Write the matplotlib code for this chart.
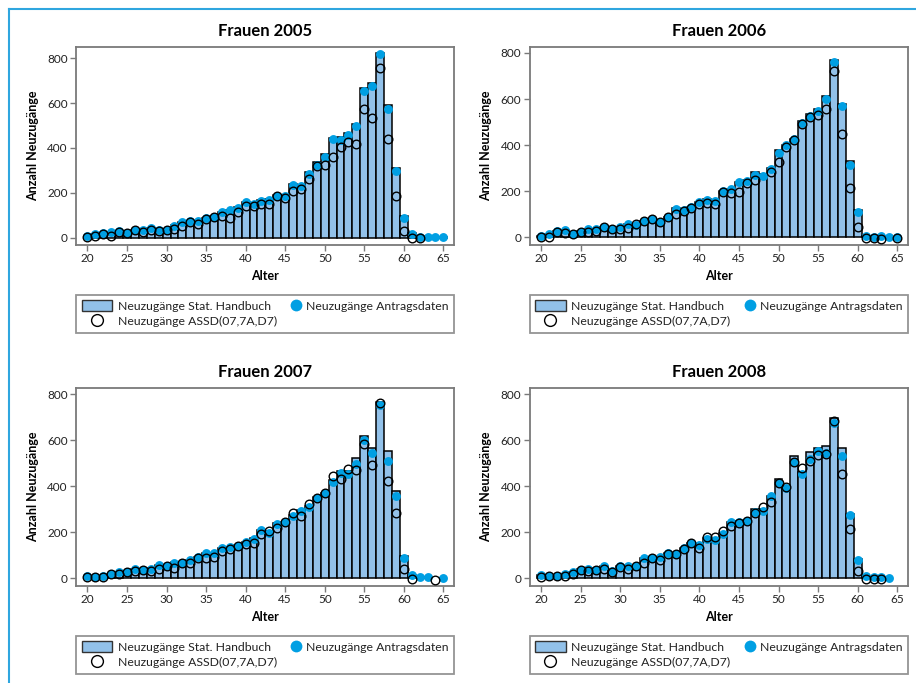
import numpy as np
import matplotlib
matplotlib.use("Agg")
import matplotlib.pyplot as plt
from matplotlib.lines import Line2D
from matplotlib.patches import Patch
from matplotlib.legend_handler import HandlerLine2D

plt.rcParams['font.family'] = ['Lato', 'DejaVu Sans']

nan = np.nan
ages = np.arange(20, 66)

# Frauen 2005
hb_2005 = [8, 16, 20, 24, 30, 22, 33, 36, 44, 33, 36, 55, 70, 74, 76, 88, 95, 116, 124, 136,
           160, 150, 166, 172, 192, 188, 240, 232, 292, 336, 373, 445, 449, 465, 505,
           668, 690, 822, 590, 310, 95, 20, 5, 3, 2, 2]
an_2005 = [6, 16, 20, 24, 30, 20, 32, 35, 43, 32, 35, 53, 68, 72, 74, 86, 92, 114, 121, 133,
           157, 148, 163, 169, 187, 184, 235, 228, 284, 324, 358, 438, 435, 458, 498,
           655, 676, 818, 572, 298, 86, 18, 3, 3, 2, 2]
as_2005 = [2, 6, 15, 9, 25, 20, 32, 24, 32, 30, 32, 38, 50, 68, 60, 81, 92, 98, 87, 112,
           139, 139, 151, 148, 187, 176, 206, 216, 261, 321, 324, 361, 404, 425, 416,
           572, 535, 756, 441, 187, 30, -3, -4, nan, nan, nan]

# Frauen 2006
hb_2006 = [5, 14, 28, 31, 17, 26, 36, 36, 46, 37, 46, 59, 56, 73, 79, 67, 88, 126, 122, 132,
           155, 165, 158, 203, 210, 242, 248, 284, 276, 302, 377, 403, 428, 504, 536,
           555, 612, 768, 579, 331, 120, 7, 4, 7, 2, 3]
an_2006 = [4, 13, 27, 30, 16, 25, 35, 35, 45, 36, 45, 58, 55, 72, 78, 66, 87, 124, 120, 131,
           153, 163, 156, 201, 208, 240, 245, 271, 266, 297, 368, 399, 425, 497, 526,
           549, 601, 762, 569, 313, 110, 6, 3, 6, 1, 3]
as_2006 = [0, 3, 23, 20, 14, 23, 25, 27, 45, 35, 38, 40, 58, 72, 78, 66, 87, 101, 116, 127,
           147, 149, 147, 199, 191, 199, 234, 251, nan, 282, 326, 394, 423, 494, 523,
           533, 555, 722, 449, 214, 43, -3, -4, -6, nan, -4]

# Frauen 2007
hb_2007 = [12, 7, 10, 18, 28, 28, 40, 36, 44, 58, 56, 70, 70, 79, 95, 110, 111, 131, 137, 143,
           158, 175, 212, 205, 240, 245, 275, 295, 315, 352, 372, 427, 466, 466, 521,
           620, 565, 765, 555, 381, 97, 15, 5, 5, nan, 1]
an_2007 = [12, 6, 9, 17, 27, 27, 39, 35, 43, 58, 55, 69, 69, 78, 94, 110, 110, 130, 136, 142,
           157, 173, 211, 199, 238, 243, 271, 293, 312, 349, 370, 420, 456, 452, 497,
           601, 543, 754, 511, 358, 87, 14, 4, 4, nan, 0]
as_2007 = [7, 4, 7, 17, 17, 27, 32, 35, 32, 43, 55, 46, 69, 69, 87, 87, 91, 121, 127, 139,
           150, 153, 194, 208, 217, 243, 283, 271, 321, 351, 370, 445, 430, 474, 471,
           583, 494, 760, 423, 286, 43, -3, nan, nan, -6, nan]

# Frauen 2008
hb_2008 = [14, 12, 12, 18, 28, 40, 44, 36, 52, 33, 53, 56, 56, 88, 91, 93, 111, 108, 132, 155,
           148, 175, 170, 198, 245, 250, 255, 303, 303, 358, 433, 398, 530, 463, 548,
           567, 575, 695, 568, 280, 85, 10, 8, 5, 1, nan]
an_2008 = [14, 12, 12, 17, 27, 38, 43, 35, 52, 32, 52, 55, 55, 87, 90, 92, 110, 107, 130, 153,
           147, 170, 165, 194, 243, 243, 250, 287, 292, 358, 416, 393, 505, 452, 517,
           552, 546, 673, 533, 277, 78, 9, 7, 4, 0, nan]
as_2008 = [7, 10, 9, 12, 20, 38, 32, 35, 40, 29, 49, 40, 52, 69, 90, 78, 107, 107, 127, 153,
           130, 179, 182, 205, 228, 240, 248, 286, 312, 332, 416, 396, 505, 479, 511,
           537, 540, 682, 455, 214, 33, -3, -4, -4, nan, nan]

titles = ["Frauen 2005", "Frauen 2006", "Frauen 2007", "Frauen 2008"]
handbuch = [hb_2005, hb_2006, hb_2007, hb_2008]
antrag = [an_2005, an_2006, an_2007, an_2008]
assd = [as_2005, as_2006, as_2007, as_2008]
ytops = [850, 826, 827, 827]

bar_col = "#92c1e9"
dot_col = "#009fe3"
frame_col = "#7a7a7a"


class DotRight(HandlerLine2D):
    # put the marker close to the label instead of the middle of the handle
    def get_xdata(self, legend, xdescent, ydescent, width, height, fontsize):
        x = -xdescent + width - 3.6
        return np.array([x, x]), np.array([x])


W, H = 916, 683
fig = plt.figure(figsize=(W / 100, H / 100), dpi=100)

# axes boxes in pixels: left, top, right, bottom
boxes = [(76, 47, 454, 245), (529.5, 47, 908, 245),
         (76, 388, 454, 586), (529.5, 388, 908, 586)]

for i in range(4):
    l, t, r, b = boxes[i]
    ax = fig.add_axes([l / W, 1 - b / H, (r - l) / W, (b - t) / H])
    hb = np.array(handbuch[i], dtype=float)
    ok = ~np.isnan(hb)
    ax.bar(ages[ok], hb[ok], width=1.0, color=bar_col,
           edgecolor="black", linewidth=1.1, zorder=2)
    ax.plot(ages, antrag[i], "o", color=dot_col, markersize=6.4,
            markeredgewidth=0, zorder=3)
    ax.plot(ages, assd[i], "o", mfc="none", mec="black", markersize=6.2,
            markeredgewidth=1.0, zorder=4)
    ax.set_xlim(18.55, 66.35)
    ax.set_ylim(-33, ytops[i])
    ax.set_xticks(range(20, 66, 5))
    ax.set_yticks(range(0, 801, 200))
    ax.tick_params(axis="both", length=4, width=1, color=frame_col,
                   labelsize=8.5, labelcolor="#222222", pad=2)
    for s in ax.spines.values():
        s.set_color(frame_col)
        s.set_linewidth(1.3)
    ax.set_title(titles[i], fontsize=12, fontweight="bold", pad=8)
    ax.set_xlabel("Alter", fontsize=9, fontweight="bold", labelpad=4)
    ax.set_ylabel("Anzahl Neuzugänge", fontsize=9, fontweight="bold", labelpad=6)

    h_bar = Patch(facecolor=bar_col, edgecolor="#333333", linewidth=1.0)
    h_ass = Line2D([], [], marker="o", ls="none", mfc="white", mec="black",
                   markersize=8.5, markeredgewidth=1.0)
    h_ant = Line2D([], [], marker="o", ls="none", color=dot_col,
                   markersize=8.5, markeredgewidth=0)
    leg = ax.legend([h_bar, h_ass, h_ant],
                    ["Neuzugänge Stat. Handbuch", "Neuzugänge ASSD(07,7A,D7)",
                     "Neuzugänge Antragsdaten"],
                    handler_map={h_ant: DotRight(numpoints=1)},
                    ncol=2, loc="upper left", bbox_to_anchor=(0, -0.2525, 1, 0),
                    mode="expand", borderaxespad=0, fontsize=8.8,
                    frameon=True, fancybox=False, edgecolor=frame_col,
                    handlelength=2.5, handleheight=0.95, handletextpad=0.45,
                    labelspacing=0.3, borderpad=0.45, columnspacing=0.0)
    leg.get_frame().set_linewidth(1.3)
    for txt in leg.get_texts():
        txt.set_color("#222222")

# blue border lines of the figure box
border = "#2fa6df"
fig.add_artist(Line2D([9 / W, 9 / W], [0, 1 - 9 / H], color=border, lw=1.5))
fig.add_artist(Line2D([9 / W, 1], [1 - 9 / H, 1 - 9 / H], color=border, lw=1.5))

fig.savefig("out.png", dpi=100)
